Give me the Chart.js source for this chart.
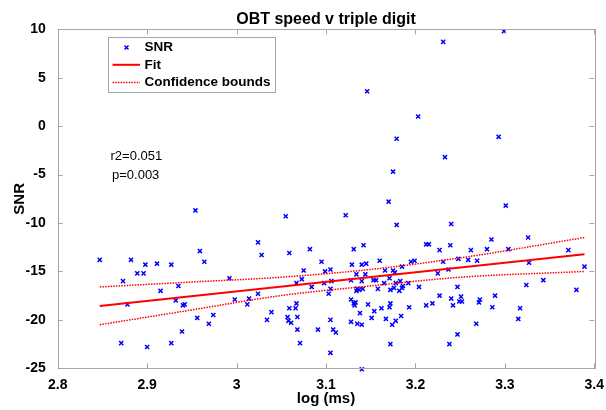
<!DOCTYPE html>
<html><head><meta charset="utf-8">
<script src="https://cdn.jsdelivr.net/npm/chart.js@4/dist/chart.umd.min.js"></script>
<style>html,body{margin:0;padding:0;background:#fff}#wrap{width:606px;height:410px}</style>
</head><body><div id="wrap"><canvas id="c" width="606" height="410"></canvas></div>
<script>
// ---- data ----
const snrX = [2.847,2.882,2.898,2.911,2.927,2.889,2.896,2.873,2.915,2.935,2.878,2.932,2.940,2.942,2.939,2.871,2.900,2.927,
2.954,3.024,3.028,2.959,2.964,2.992,2.998,3.014,3.024,3.012,3.039,3.034,2.956,2.974,2.969,
3.055,3.122,3.059,3.082,3.095,3.075,3.099,3.105,3.073,3.067,3.084,3.098,3.106,3.105,3.103,3.128,3.129,3.140,3.145,3.131,3.142,
3.134,3.144,3.140,3.135,3.134,3.137,3.141,3.128,3.131,3.133,3.132,3.138,3.147,3.067,3.059,3.066,3.057,3.068,3.058,3.061,3.068,
3.091,3.105,3.108,3.111,3.128,3.135,3.140,3.071,3.105,
3.170,3.179,3.240,3.212,3.215,3.239,3.227,3.160,3.195,3.199,3.185,3.231,3.248,3.166,3.175,3.177,3.225,3.237,3.171,3.153,3.156,
3.165,3.178,3.183,3.192,3.186,3.185,3.176,3.172,3.182,3.158,3.204,3.247,3.227,3.240,3.242,3.249,3.154,3.162,3.172,3.171,3.193,
3.212,3.219,3.151,3.167,3.178,3.174,3.184,3.172,3.238,3.247,
3.301,3.285,3.326,3.262,3.280,3.304,3.371,3.259,3.269,3.327,3.389,3.343,3.324,3.380,3.289,3.251,3.252,3.272,3.271,3.286,3.317,
3.315,3.268,3.299,3.231,3.146,3.203,3.179,3.293,3.233,3.175,3.140];
const snrY = [-13.8,-13.8,-14.3,-14.2,-14.3,-15.2,-15.2,-16.0,-17.0,-16.5,-18.4,-18.0,-18.5,-18.4,-21.2,-22.4,-22.8,-22.4,
-8.7,-12.0,-13.3,-12.9,-14.0,-15.7,-17.9,-17.8,-17.3,-18.4,-19.2,-20.0,-19.8,-19.5,-20.4,
-9.3,-9.2,-13.1,-12.7,-14.0,-14.9,-15.0,-14.8,-15.8,-16.2,-16.6,-16.2,-16.0,-16.8,-17.3,-15.9,-14.3,-14.3,-14.2,-12.7,-12.3,
-15.3,-15.3,-16.0,-16.8,-17.0,-16.9,-16.8,-17.9,-18.3,-18.2,-18.5,-19.3,-18.4,-18.3,-18.8,-18.8,-19.7,-19.7,-20.1,-20.3,-21.0,
-21.0,-20.0,-21.0,-21.3,-20.2,-20.4,-20.5,-22.4,-23.4,
-7.8,-10.2,-10.1,-12.2,-12.2,-12.3,-12.8,-13.9,-14.0,-13.9,-14.5,-14.0,-13.7,-14.9,-14.9,-15.1,-15.2,-14.8,-15.7,-15.9,-15.9,
-16.2,-16.2,-16.0,-16.2,-16.5,-16.7,-16.7,-16.9,-17.0,-16.8,-16.6,-16.6,-17.5,-17.8,-18.5,-18.1,-19.1,-18.8,-18.3,-18.7,-18.7,
-18.5,-18.3,-19.8,-19.9,-20.1,-20.5,-19.6,-22.5,-22.5,-21.5,
-8.2,-11.7,-11.5,-12.8,-12.7,-12.7,-12.8,-13.8,-13.9,-14.1,-14.5,-15.9,-16.4,-16.9,-17.5,-17.6,-18.1,-17.9,-18.2,-18.7,-18.8,
-19.9,-20.4,9.8,8.7,3.6,1.0,-1.3,-1.1,-3.2,-4.7,-25.1];
const fitX = [2.847, 3.389];
const fitY = [-18.57, -13.23];
const boundX = [2.847, 2.948, 3.049, 3.149, 3.250, 3.389];
const upperY = [-16.6, -16.1, -15.6, -14.8, -13.6, -11.5];
const lowerY = [-20.5, -19.0, -17.5, -16.5, -15.6, -15.0];
const xTicks = [2.8, 2.9, 3.0, 3.1, 3.2, 3.3, 3.4];
const yTicks = [-25, -20, -15, -10, -5, 0, 5, 10];
const titleText = 'OBT speed v triple digit';
const xLabel = 'log (ms)';
const yLabel = 'SNR';
const legendLabels = ['SNR', 'Fit', 'Confidence bounds'];
const statsText = ['r2=0.051', 'p=0.003'];

const FONT = '"Liberation Sans", Arial, Helvetica, sans-serif';
const BLUE = '#0000ff', RED = '#ff0000', FRAME = '#a6a6a6';
const zip = (xs, ys) => xs.map((x, i) => ({x, y: ys[i]}));

const matlabAxes = {
  id: 'matlabAxes',
  afterDatasetsDraw(chart) {
    const {ctx, chartArea: a, scales: {x, y}} = chart;
    ctx.save();
    ctx.strokeStyle = FRAME; ctx.lineWidth = 1;
    ctx.strokeRect(Math.round(a.left) + 0.5, Math.round(a.top) + 0.5, Math.round(a.right - a.left), Math.round(a.bottom - a.top));
    const tl = 5;
    ctx.beginPath();
    xTicks.forEach(v => {
      const px = Math.round(x.getPixelForValue(v)) + 0.5;
      ctx.moveTo(px, a.bottom); ctx.lineTo(px, a.bottom - tl);
      ctx.moveTo(px, a.top); ctx.lineTo(px, a.top + tl);
    });
    yTicks.forEach(v => {
      const py = Math.round(y.getPixelForValue(v)) + 0.5;
      ctx.moveTo(a.left, py); ctx.lineTo(a.left + tl, py);
      ctx.moveTo(a.right, py); ctx.lineTo(a.right - tl, py);
    });
    ctx.stroke();
    ctx.restore();
  },
  afterDraw(chart) {
    const {ctx} = chart;
    ctx.save();
    // legend box
    const bx = 108.5, by = 37.5, bw = 167, bh = 55;
    ctx.fillStyle = '#fff'; ctx.fillRect(bx, by, bw, bh);
    ctx.strokeStyle = FRAME; ctx.lineWidth = 1; ctx.strokeRect(bx, by, bw, bh);
    const rows = [47.5, 64.8, 82.5];
    const sx0 = 112.5, sx1 = 140;
    // marker
    ctx.strokeStyle = BLUE; ctx.lineWidth = 1.5;
    const mx = 126.5, my = rows[0], r = 2;
    ctx.beginPath(); ctx.moveTo(mx - r, my - r); ctx.lineTo(mx + r, my + r); ctx.moveTo(mx - r, my + r); ctx.lineTo(mx + r, my - r); ctx.stroke();
    // fit
    ctx.strokeStyle = RED; ctx.lineWidth = 2;
    ctx.beginPath(); ctx.moveTo(sx0, rows[1]); ctx.lineTo(sx1, rows[1]); ctx.stroke();
    // bounds
    ctx.lineWidth = 1.5; ctx.setLineDash([1.5, 1.2]);
    ctx.beginPath(); ctx.moveTo(sx0, rows[2]); ctx.lineTo(sx1, rows[2]); ctx.stroke();
    ctx.setLineDash([]);
    ctx.fillStyle = '#000'; ctx.font = 'bold 13.5px ' + FONT; ctx.textBaseline = 'middle'; ctx.textAlign = 'left';
    legendLabels.forEach((t, i) => ctx.fillText(t, 144.5, rows[i]));
    // stats
    ctx.font = '13px ' + FONT;
    ctx.fillText(statsText[0], 110.5, 156);
    ctx.fillText(statsText[1], 112, 175.5);
    ctx.restore();
  }
};

new Chart(document.getElementById('c'), {
  type: 'scatter',
  data: {
    datasets: [
      {label: legendLabels[0], data: zip(snrX, snrY), pointStyle: 'crossRot', pointRadius: 2.9, pointHoverRadius: 2.9,
       borderColor: BLUE, backgroundColor: BLUE, pointBorderWidth: 1.5, clip: false, order: 1},
      {label: legendLabels[1], data: zip(fitX, fitY), showLine: true, borderColor: RED, borderWidth: 2, pointRadius: 0, order: 0},
      {label: legendLabels[2], data: zip(boundX, upperY), showLine: true, borderColor: RED, borderWidth: 1.5,
       borderDash: [1.5, 1.2], pointRadius: 0, cubicInterpolationMode: 'monotone', order: 0},
      {label: legendLabels[2] + ' (lower)', data: zip(boundX, lowerY), showLine: true, borderColor: RED, borderWidth: 1.5,
       borderDash: [1.5, 1.2], pointRadius: 0, cubicInterpolationMode: 'monotone', order: 0}
    ]
  },
  options: {
    responsive: false, animation: false, devicePixelRatio: 1,
    layout: {padding: {left: 0, right: 11.7, top: 0, bottom: 0}},
    plugins: {
      legend: {display: false}, tooltip: {enabled: false},
      title: {display: true, text: titleText, fullSize: false, color: '#000',
              font: {family: FONT, size: 16, weight: 'bold', lineHeight: 1}, padding: {top: 12, bottom: 1.3}}
    },
    scales: {
      x: {type: 'linear', min: 2.8, max: 3.4,
          afterBuildTicks: s => { s.ticks = xTicks.map(v => ({value: v})); },
          afterFit: s => { s.height = 41.7; },
          grid: {display: false}, border: {display: false},
          ticks: {color: '#000', font: {family: FONT, size: 14, weight: 'bold'}, padding: 0, maxRotation: 0,
                  callback: v => String(Number(Number(v).toFixed(1)))},
          title: {display: true, text: xLabel, color: '#000', font: {family: FONT, size: 15, weight: 'bold'}, padding: {top: 0, bottom: 2}}},
      y: {type: 'linear', min: -25, max: 10,
          afterBuildTicks: s => { s.ticks = yTicks.map(v => ({value: v})); },
          afterFit: s => { s.width = 57.7; },
          grid: {display: false}, border: {display: false},
          ticks: {color: '#000', font: {family: FONT, size: 14, weight: 'bold'}, padding: 4},
          title: {display: true, text: yLabel, color: '#000', font: {family: FONT, size: 15, weight: 'bold'}, padding: {top: 11, bottom: 0}}}
    }
  },
  plugins: [matlabAxes]
});
</script></body></html>
